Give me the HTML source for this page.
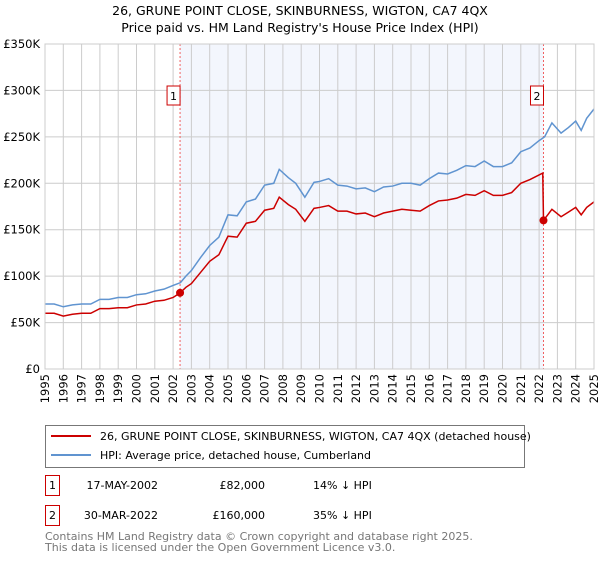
<!DOCTYPE html>
<html><head><meta charset="utf-8"><style>
body{margin:0;background:#fff;font-family:"Liberation Sans","DejaVu Sans",sans-serif}
svg text{font-family:"DejaVu Sans","Liberation Sans",sans-serif}
</style></head><body>
<svg width="600" height="560" xmlns="http://www.w3.org/2000/svg" id="svg">
<text x="300" y="15" text-anchor="middle" font-size="12.5">26, GRUNE POINT CLOSE, SKINBURNESS, WIGTON, CA7 4QX</text>
<text x="300" y="32" text-anchor="middle" font-size="12.5">Price paid vs. HM Land Registry's House Price Index (HPI)</text>
<g id="plot"></g>
<g>
<rect x="45.5" y="425.5" width="479" height="42" fill="#fff" stroke="#777"/>
<line x1="51" y1="436" x2="91" y2="436" stroke="#cc0000" stroke-width="2"/>
<text x="100" y="440" font-size="11">26, GRUNE POINT CLOSE, SKINBURNESS, WIGTON, CA7 4QX (detached house)</text>
<line x1="51" y1="455" x2="91" y2="455" stroke="#6094d0" stroke-width="2"/>
<text x="100" y="459" font-size="11">HPI: Average price, detached house, Cumberland</text>
</g>
<g font-size="11">
<rect x="45.5" y="475.5" width="14" height="20" fill="#fff" stroke="#cc0000"/>
<text x="52.5" y="489" text-anchor="middle">1</text>
<text x="158" y="489" text-anchor="end">17-MAY-2002</text>
<text x="265" y="489" text-anchor="end">£82,000</text>
<text x="313" y="489">14% ↓ HPI</text>
<rect x="45.5" y="505.5" width="14" height="20" fill="#fff" stroke="#cc0000"/>
<text x="52.5" y="519" text-anchor="middle">2</text>
<text x="158" y="519" text-anchor="end">30-MAR-2022</text>
<text x="265" y="519" text-anchor="end">£160,000</text>
<text x="313" y="519">35% ↓ HPI</text>
</g>
<text x="45" y="540" font-size="11" fill="#777">Contains HM Land Registry data © Crown copyright and database right 2025.</text>
<text x="45" y="551" font-size="11" fill="#777">This data is licensed under the Open Government Licence v3.0.</text>
</svg>
<script>
const hpiYears=[1995,1995.5,1996,1996.5,1997,1997.5,1998,1998.5,1999,1999.5,2000,2000.5,2001,2001.5,2002,2002.4,2002.7,2003,2003.5,2004,2004.5,2005,2005.5,2006,2006.5,2007,2007.5,2007.8,2008.3,2008.7,2009.2,2009.7,2010,2010.5,2011,2011.5,2012,2012.5,2013,2013.5,2014,2014.5,2015,2015.5,2016,2016.5,2017,2017.5,2018,2018.5,2019,2019.5,2020,2020.5,2021,2021.5,2022,2022.3,2022.7,2023.2,2023.6,2024,2024.3,2024.6,2025];
const hpiValues=[70,70,67,69,70,70,75,75,77,77,80,81,84,86,90,93,100,106,120,133,142,166,165,180,183,198,200,215,206,200,185,201,202,205,198,197,194,195,191,196,197,200,200,198,205,211,210,214,219,218,224,218,218,222,234,238,246,250,265,254,260,267,257,270,280];
const priceYears=[1995,1995.5,1996,1996.5,1997,1997.5,1998,1998.5,1999,1999.5,2000,2000.5,2001,2001.5,2002,2002.38,2002.7,2003,2003.5,2004,2004.5,2005,2005.5,2006,2006.5,2007,2007.5,2007.8,2008.3,2008.7,2009.2,2009.7,2010,2010.5,2011,2011.5,2012,2012.5,2013,2013.5,2014,2014.5,2015,2015.5,2016,2016.5,2017,2017.5,2018,2018.5,2019,2019.5,2020,2020.5,2021,2021.5,2022.2,2022.24,2022.7,2023.2,2023.6,2024,2024.3,2024.6,2025];
const priceValues=[60,60,57,59,60,60,65,65,66,66,69,70,73,74,77,82,88,92,104,116,123,143,142,157,159,171,173,185,177,172,159,173,174,176,170,170,167,168,164,168,170,172,171,170,176,181,182,184,188,187,192,187,187,190,200,204,211,160,172,164,169,174,166,174,180];
const yTicks=[0,50,100,150,200,250,300,350];
const yTickLabels=["£0","£50K","£100K","£150K","£200K","£250K","£300K","£350K"];
const xTicks=[1995,1996,1997,1998,1999,2000,2001,2002,2003,2004,2005,2006,2007,2008,2009,2010,2011,2012,2013,2014,2015,2016,2017,2018,2019,2020,2021,2022,2023,2024,2025];
const sales=[[2002.38,82,"1"],[2022.24,160,"2"]];
const L=45,R=594,T=44,B=369;
const x=v=>L+(v-1995)/30*(R-L);
const y=v=>B-v/350*(B-T);
const NS="http://www.w3.org/2000/svg";
const g=document.getElementById('plot');
function mk(t,a,p){const e=document.createElementNS(NS,t);for(const k in a)e.setAttribute(k,a[k]);(p||g).appendChild(e);return e;}
const sh=mk('rect',{x:x(sales[0][0]),y:T,width:x(sales[1][0])-x(sales[0][0]),height:B-T,fill:'#f3f6fd'});


xTicks.forEach(t=>{const l=mk('line',{x1:x(t),x2:x(t),y1:T,y2:B,stroke:'#ccc'});


const tx=mk('text',{x:0,y:0,'font-size':11.5,'text-anchor':'end',transform:`translate(${x(t)+4},${B+5}) rotate(-90)`});tx.textContent=t;

});
yTicks.forEach((t,i)=>{const l=mk('line',{x1:L,x2:R,y1:y(t),y2:y(t),stroke:'#ccc'});


const tx=mk('text',{x:L-5,y:y(t)+4,'font-size':11.5,'text-anchor':'end'});tx.textContent=yTickLabels[i];

});
sales.forEach(s=>{const l=mk('line',{x1:x(s[0]),x2:x(s[0]),y1:T,y2:B,stroke:'#f06060','stroke-dasharray':'2,2'});


const bx=mk('rect',{x:x(s[0])-13,y:86,width:13,height:19,fill:'#fff',stroke:'#cc0000'});


const tt=mk('text',{x:x(s[0])-6.5,y:100,'font-size':11,'text-anchor':'middle'});tt.textContent=s[2];

});
const hp=mk('polyline',{points:hpiYears.map((v,i)=>x(v)+','+y(hpiValues[i])).join(' '),fill:'none',stroke:'#6094d0','stroke-width':1.5});


const pp=mk('polyline',{points:priceYears.map((v,i)=>x(v)+','+y(priceValues[i])).join(' '),fill:'none',stroke:'#cc0000','stroke-width':1.5});


sales.forEach(s=>{const c=mk('circle',{cx:x(s[0]),cy:y(s[1]),r:4,fill:'#cc0000'});

});
const ax=mk('rect',{x:L,y:T,width:R-L,height:B-T,fill:'none',stroke:'#ccc'});


</script>
</body></html>
